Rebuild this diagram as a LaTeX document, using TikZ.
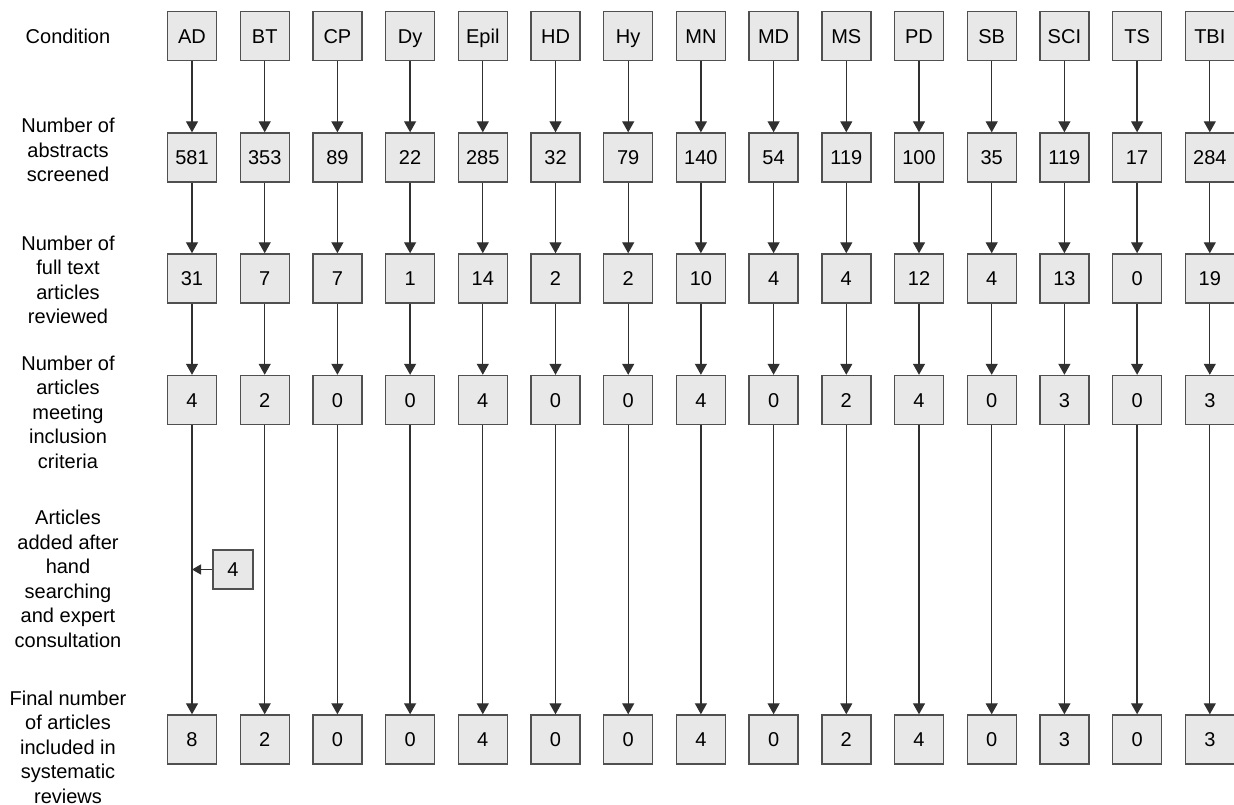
\documentclass[tikz,border=0pt]{standalone}
\usepackage{fontspec}
\setmainfont{Liberation Sans}
\usetikzlibrary{arrows.meta}
\definecolor{boxfill}{HTML}{E8E8E8}
\definecolor{boxdraw}{HTML}{505050}
\definecolor{linecol}{HTML}{303030}
\tikzset{
  cbox/.style={draw=boxdraw, fill=boxfill, line width=1.4pt, minimum width=49pt, minimum height=49pt, inner sep=0pt, text height=14.3pt, text depth=0pt, font=\fontsize{20}{24}\selectfont},
  sbox/.style={draw=boxdraw, fill=boxfill, line width=1.4pt, minimum width=40pt, minimum height=39pt, inner sep=0pt, text height=14.3pt, text depth=0pt, font=\fontsize{20}{24}\selectfont},
  rowlabel/.style={align=center, inner sep=0pt, font=\fontsize{20}{24.5}\selectfont},
  conn/.style={draw=linecol, line width=1.3pt, -{Triangle[length=11pt,width=12pt]}},
  sconn/.style={draw=linecol, line width=1.3pt, -{Triangle[length=9pt,width=10pt]}}
}
\begin{document}
\begin{tikzpicture}[x=1pt,y=-1pt]
\useasboundingbox (0,0) rectangle (1234,805);
% row labels
\node[rowlabel] (l1) at (68,36) {Condition};
\node[rowlabel] (l2) at (68,150) {Number of\\abstracts\\screened};
\node[rowlabel] (l3) at (68,280) {Number of\\full text\\articles\\reviewed};
\node[rowlabel] (l4) at (68,412) {Number of\\articles\\meeting\\inclusion\\criteria};
\node[rowlabel] (l5) at (68,579) {Articles\\added after\\hand\\searching\\and expert\\consultation};
\node[rowlabel] (l6) at (68,747) {Final number\\of articles\\included in\\systematic\\reviews};
% columns
\foreach \i/\c/\a/\f/\m/\z in {0/AD/581/31/4/8, 1/BT/353/7/2/2, 2/CP/89/7/0/0, 3/Dy/22/1/0/0, 4/Epil/285/14/4/4, 5/HD/32/2/0/0, 6/Hy/79/2/0/0, 7/MN/140/10/4/4, 8/MD/54/4/0/0, 9/MS/119/4/2/2, 10/PD/100/12/4/4, 11/SB/35/4/0/0, 12/SCI/119/13/3/3, 13/TS/17/0/0/0, 14/TBI/284/19/3/3} {
  \pgfmathsetmacro{\xx}{192+72.7*\i}
  \node[cbox] (c\i) at (\xx,36) {\c};
  \node[cbox] (a\i) at (\xx,157.5) {\a};
  \node[cbox] (f\i) at (\xx,278.5) {\f};
  \node[cbox] (m\i) at (\xx,400) {\m};
  \node[cbox] (z\i) at (\xx,739.5) {\z};
  \draw[conn] (c\i) -- (a\i);
  \draw[conn] (a\i) -- (f\i);
  \draw[conn] (f\i) -- (m\i);
  \draw[conn] (m\i) -- (z\i);
}
\node[sbox] (add) at (233,569.5) {4};
\coordinate (join) at (192,569.5);
\draw[sconn] (add) -- (join);
\end{tikzpicture}
\end{document}
